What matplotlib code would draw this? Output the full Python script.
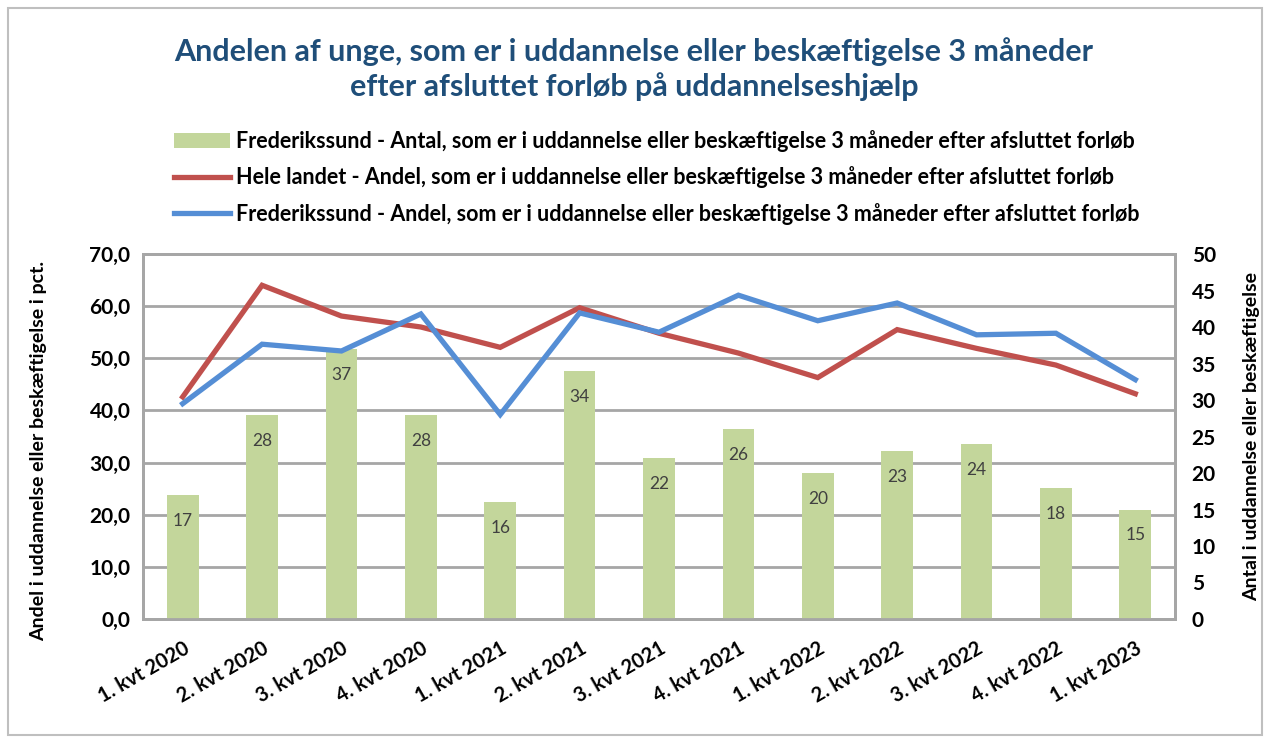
import numpy as np
import matplotlib.pyplot as plt
from matplotlib.patches import Patch, Rectangle
from matplotlib.lines import Line2D
from matplotlib.ticker import FuncFormatter, MultipleLocator

plt.rcParams['font.family'] = ['Lato', 'DejaVu Sans']

# data
kvartaler = ['1. kvt 2020', '2. kvt 2020', '3. kvt 2020', '4. kvt 2020',
             '1. kvt 2021', '2. kvt 2021', '3. kvt 2021', '4. kvt 2021',
             '1. kvt 2022', '2. kvt 2022', '3. kvt 2022', '4. kvt 2022',
             '1. kvt 2023']
antal_frederikssund = [17, 28, 37, 28, 16, 34, 22, 26, 20, 23, 24, 18, 15]
andel_hele_landet = [42.6, 64.0, 58.1, 56.0, 52.1, 59.7, 54.8, 51.0, 46.3, 55.5, 51.9, 48.7, 43.2]
andel_frederikssund = [41.3, 52.7, 51.4, 58.5, 39.2, 58.7, 55.0, 62.1, 57.2, 60.6, 54.5, 54.8, 45.9]

lbl_bar = 'Frederikssund - Antal, som er i uddannelse eller beskæftigelse 3 måneder efter afsluttet forløb'
lbl_red = 'Hele landet - Andel, som er i uddannelse eller beskæftigelse 3 måneder efter afsluttet forløb'
lbl_blue = 'Frederikssund - Andel, som er i uddannelse eller beskæftigelse 3 måneder efter afsluttet forløb'

bar_col = '#C3D69B'
red_col = '#C0504D'
blue_col = '#558ED5'
grid_col = '#A6A6A6'

fig = plt.figure(figsize=[12.68, 7.42], dpi=100)
fig.patches.append(Rectangle((8/1268, 7/742), 1254/1268, 727/742, transform=fig.transFigure,
                             fill=False, edgecolor='#BFBFBF', linewidth=1.5))

ax = fig.add_axes([143/1268, 1 - 619/742, 1032/1268, 365/742])
ax2 = ax.twinx()
x = np.arange(len(kvartaler))

# lines on the left axis, bars on the right axis (bars behind)
ax2.set_zorder(1)
ax.set_zorder(2)
ax.patch.set_visible(False)
ax2.patch.set_facecolor('#EBF1DE')

bars = ax2.bar(x, antal_frederikssund, width=0.4, color=bar_col, zorder=3)
for xi, v in zip(x, antal_frederikssund):
    ax2.annotate(str(v), (xi, v), xytext=(0, -26), textcoords='offset pixels',
                 ha='center', va='center', fontsize=12.5, color='#404040')

ax.plot(x, andel_hele_landet, color=red_col, linewidth=3.8, solid_joinstyle='miter')
ax.plot(x, andel_frederikssund, color=blue_col, linewidth=3.8, solid_joinstyle='miter')

ax.set_xlim(-0.5, len(kvartaler) - 0.5)
ax.set_ylim(0, 70)
ax2.set_ylim(0, 50)
ax.yaxis.set_major_locator(MultipleLocator(10))
ax2.yaxis.set_major_locator(MultipleLocator(5))
ax.yaxis.set_major_formatter(FuncFormatter(lambda v, p: f'{v:.1f}'.replace('.', ',')))

for v in range(10, 70, 10):
    ax2.axhline(v * 50 / 70, color=grid_col, linewidth=2, zorder=1)

ax.set_xticks(x)
ax.set_xticklabels(kvartaler, rotation=30, ha='right', rotation_mode='anchor',
                   fontsize=14.5, fontweight='bold')
ax.tick_params(axis='x', length=0, pad=14)
ax.tick_params(axis='y', length=0, pad=9, labelsize=15)
ax2.tick_params(axis='y', length=0, pad=12, labelsize=15)
for t in ax.get_yticklabels() + ax2.get_yticklabels():
    t.set_fontweight('bold')

for a in (ax, ax2):
    for s in a.spines.values():
        s.set_color(grid_col)
        s.set_linewidth(2)

ax.set_ylabel('Andel i uddannelse eller beskæftigelse i pct.', fontsize=14, fontweight='bold', labelpad=12)
ax.yaxis.set_label_coords(-0.093, 0.46)
ax2.set_ylabel('Antal i uddannelse eller beskæftigelse', fontsize=14, fontweight='bold', labelpad=14)
ax2.yaxis.set_label_coords(1.066, 0.5)

fig.text(0.5, 1 - 69/742, 'Andelen af unge, som er i uddannelse eller beskæftigelse 3 måneder\nefter afsluttet forløb på uddannelseshjælp',
         ha='center', va='center', fontsize=22, fontweight='bold', color='#1F4E79', linespacing=1.25)

handles = [Patch(facecolor=bar_col, edgecolor='none'),
           Line2D([], [], color=red_col, linewidth=3.8),
           Line2D([], [], color=blue_col, linewidth=3.8)]
leg = fig.legend(handles, [lbl_bar, lbl_red, lbl_blue], loc='upper left',
                 bbox_to_anchor=(165/1268, 1 - 121/742), frameon=False,
                 prop={'size': 15.5, 'weight': 'bold'}, handlelength=2.6, handletextpad=0.3,
                 labelspacing=0.68, borderaxespad=0)

plt.savefig('out.png', dpi=100)
